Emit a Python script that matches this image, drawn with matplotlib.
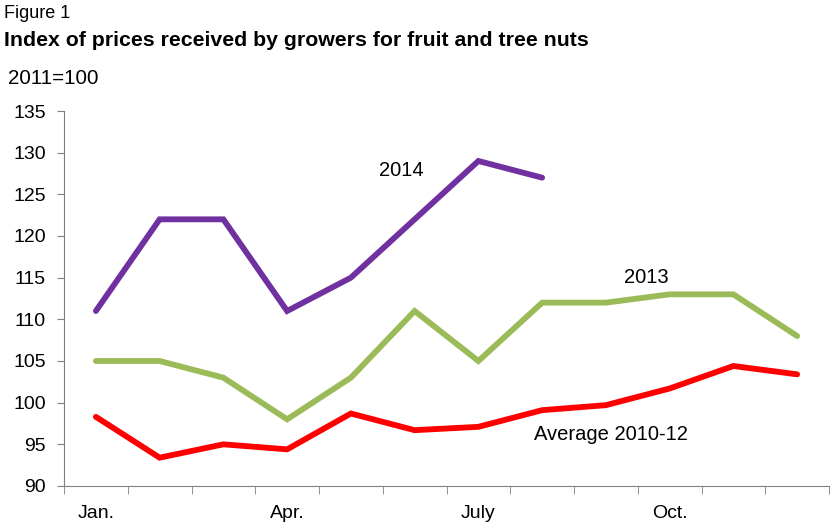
import matplotlib
matplotlib.use("Agg")
import matplotlib.pyplot as plt
import numpy as np

plt.rcParams['font.family'] = ['Liberation Sans', 'DejaVu Sans']

months = ["Jan.", "Feb.", "Mar.", "Apr.", "May", "June", "July", "Aug.", "Sep.", "Oct.", "Nov.", "Dec."]
tick_labels = ["Jan.", "", "", "Apr.", "", "", "July", "", "", "Oct.", "", ""]
y2014 = [111, 122, 122, 111, 115, 122, 129, 127]
y2013 = [105, 105, 103, 98, 103, 111, 105, 112, 112, 113, 113, 108]
yavg = [98.3, 93.4, 95.0, 94.4, 98.7, 96.7, 97.1, 99.1, 99.7, 101.7, 104.4, 103.4]
yticks = [90, 95, 100, 105, 110, 115, 120, 125, 130, 135]

fig = plt.figure(figsize=(8.32, 5.22), dpi=100)
ax = fig.add_axes([64/832, 1-486/522, (829-64)/832, (486-111)/522])

x = np.arange(len(months))
ax.plot(x[:len(y2014)], y2014, color="#7030A0", lw=4.2, solid_capstyle='round', solid_joinstyle='miter')
ax.plot(x, y2013, color="#9BBB59", lw=4.2, solid_capstyle='round', solid_joinstyle='miter')
ax.plot(x, yavg, color="#FF0000", lw=4.2, solid_capstyle='round', solid_joinstyle='miter')

ax.set_xlim(-0.5, 11.5)
ax.set_ylim(90, 135)
ax.set_yticks(yticks)
ax.set_yticklabels([str(v) for v in yticks], fontsize=14)
ax.set_xticks(x)
ax.set_xticklabels(tick_labels, fontsize=14)
ax.tick_params(axis='x', which='major', length=0, pad=14)
ax.set_xticks(np.arange(-0.5, 12, 1), minor=True)
ax.tick_params(axis='x', which='minor', length=6, direction='out', color='#808080')
ax.tick_params(axis='y', length=5, direction='out', color='#808080', pad=8)
for s in ['top', 'right']:
    ax.spines[s].set_visible(False)
ax.spines['left'].set_color('#808080')
ax.spines['bottom'].set_color('#808080')

ax.text(4.79, 127.9, "2014", fontsize=14.5, ha='center', va='center')
ax.text(8.63, 115.0, "2013", fontsize=14.5, ha='center', va='center')
ax.text(8.08, 96.24, "Average 2010-12", fontsize=14.5, ha='center', va='center')

fig.text(4/832, 1-14/522, "Figure 1", fontsize=13, ha='left', va='center')
fig.text(4/832, 1-40/522, "Index of prices received by growers for fruit and tree nuts", fontsize=15.3, fontweight='bold', ha='left', va='center')
fig.text(8/832, 1-78/522, "2011=100", fontsize=14.8, ha='left', va='center')

fig.savefig("out.png", dpi=100)
